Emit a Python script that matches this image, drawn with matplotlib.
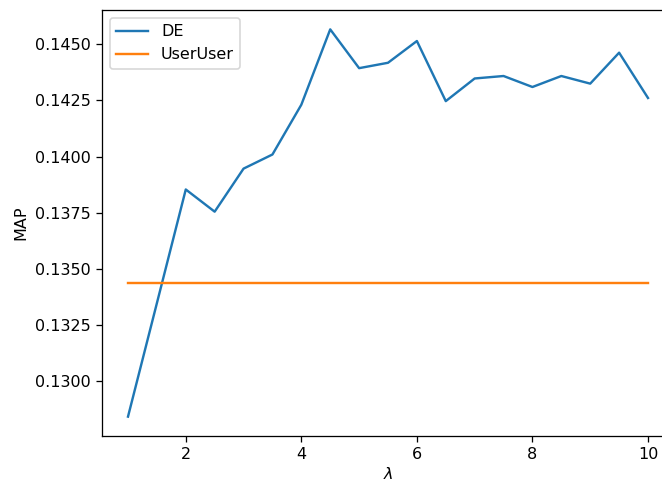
import matplotlib
matplotlib.use("Agg")
import matplotlib.pyplot as plt

lam = [1, 1.5, 2, 2.5, 3, 3.5, 4, 4.5, 5, 5.5, 6, 6.5, 7, 7.5, 8, 8.5, 9, 9.5, 10]
de_map = [0.12840, 0.13346, 0.13853, 0.13754, 0.13946, 0.14009, 0.14231, 0.14567,
          0.14394, 0.14418, 0.14515, 0.14247, 0.14348, 0.14359, 0.14310, 0.14359,
          0.14325, 0.14463, 0.14261]
useruser_map = 0.13438

fig = plt.figure(figsize=(662 / 115, 482 / 115), dpi=115)
ax = fig.add_axes([102 / 662, 46 / 482, 572 / 662, 426 / 482])

ax.plot(lam, de_map, label="DE")
ax.plot(lam, [useruser_map] * len(lam), label="UserUser")

ax.set_xlabel(r"$\lambda$", labelpad=2.5)
ax.set_ylabel("MAP")
ax.legend(loc="upper left")

fig.savefig("out.png", dpi=115)
